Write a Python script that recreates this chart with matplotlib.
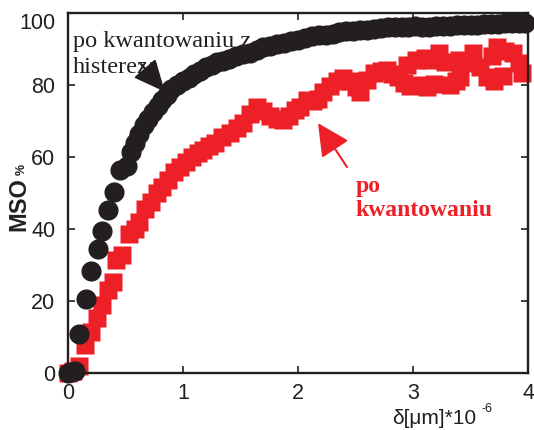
import matplotlib
matplotlib.use("Agg")
import matplotlib.pyplot as plt

plt.rcParams['font.family'] = ['Liberation Sans', 'DejaVu Sans']

# po kwantowaniu z histereza (czarne kolka)
x_hist = [0.00, 0.03, 0.06, 0.10, 0.157, 0.20, 0.26, 0.30, 0.35, 0.40,
          0.45, 0.51, 0.55, 0.58, 0.62, 0.66, 0.70, 0.74, 0.78, 0.82,
          0.86, 0.90, 0.95, 1.00, 1.05, 1.10, 1.15, 1.20, 1.25, 1.30,
          1.35, 1.40, 1.46, 1.52, 1.58, 1.64, 1.70, 1.76, 1.82, 1.88,
          1.94, 2.00, 2.06, 2.12, 2.18, 2.24, 2.30, 2.36, 2.42, 2.48,
          2.54, 2.60, 2.66, 2.72, 2.78, 2.84, 2.90, 2.96, 3.02, 3.08,
          3.14, 3.20, 3.26, 3.32, 3.38, 3.44, 3.50, 3.56, 3.62, 3.68,
          3.74, 3.80, 3.86, 3.92, 3.97]
y_hist = [0.0, 0.2, 0.5, 10.8, 20.6, 28.4, 34.4, 39.4, 45.3, 50.3,
          56.4, 57.5, 61.5, 64.0, 66.5, 68.8, 70.5, 72.5, 74.2, 75.8,
          77.3, 78.8, 80.0, 81.0, 82.0, 83.0, 83.8, 85.0, 85.6, 86.3,
          86.8, 87.3, 88.0, 88.5, 88.9, 89.8, 90.5, 90.9, 91.3, 91.6,
          92.1, 92.5, 93.0, 93.5, 93.9, 94.0, 94.2, 94.6, 94.9, 95.0,
          95.3, 95.4, 95.6, 95.9, 96.0, 96.1, 96.2, 96.1, 96.3, 96.2,
          96.1, 96.3, 96.4, 96.5, 96.6, 96.7, 96.7, 96.8, 96.9, 97.0,
          97.0, 97.1, 97.1, 97.2, 97.3]

# po kwantowaniu (czerwone kwadraty)
x_kw = [0.00, 0.04, 0.10, 0.15, 0.20, 0.25, 0.30, 0.35, 0.39, 0.42,
        0.47, 0.53, 0.58, 0.62, 0.67, 0.72, 0.77, 0.82, 0.87, 0.92,
        0.97, 1.03, 1.08, 1.13, 1.17, 1.23, 1.28, 1.34, 1.41, 1.47,
        1.52, 1.58, 1.64, 1.70, 1.76, 1.82, 1.87, 1.92, 1.97, 2.02,
        2.08, 2.13, 2.17, 2.22, 2.28, 2.34, 2.39, 2.45, 2.50, 2.54,
        2.60, 2.66, 2.72, 2.77, 2.82, 2.87, 2.92, 2.95, 2.97, 3.03,
        3.08, 3.10, 3.12, 3.15, 3.18, 3.23, 3.28, 3.32, 3.37, 3.40,
        3.41, 3.46, 3.52, 3.58, 3.64, 3.69, 3.70, 3.73, 3.78, 3.80,
        3.87, 3.92, 3.95]
y_kw = [0.0, 0.5, 2.0, 7.8, 11.4, 15.3, 18.9, 23.0, 25.3, 31.5,
        32.8, 38.5, 40.0, 42.0, 45.5, 47.5, 50.0, 51.8, 53.6, 55.8,
        57.2, 58.5, 60.0, 61.0, 61.9, 63.0, 63.9, 65.5, 66.7, 68.0,
        69.4, 72.0, 73.9, 72.8, 71.5, 70.5, 70.3, 71.5, 73.0, 74.0,
        75.8, 75.5, 76.0, 78.0, 79.8, 81.0, 82.0, 81.0, 79.5, 78.0,
        81.5, 83.3, 83.8, 84.2, 83.0, 82.2, 80.5, 85.5, 79.8, 86.9,
        80.0, 87.5, 79.4, 87.0, 80.2, 88.9, 86.5, 80.0, 81.0, 87.0,
        82.2, 86.0, 88.9, 85.0, 82.2, 88.0, 81.0, 90.6, 82.5, 89.5,
        88.9, 86.0, 83.3]

black = '#231f20'
red = '#ee2027'

fig = plt.figure(figsize=(5.34, 4.30), dpi=100)
ax = fig.add_axes([0.1273, 0.1326, 0.8615, 0.8372])

ax.plot(x_kw, y_kw, 's', color=red, ms=13.5, mec='none', clip_on=False, zorder=2)
ax.plot(x_hist, y_hist, 'o', color=black, ms=14.5, mec='none', clip_on=False, zorder=3)

ax.set_xlim(0, 4)
ax.set_ylim(0, 100)
ax.set_xticks([0, 1, 2, 3, 4])
ax.set_yticks([0, 20, 40, 60, 80, 100])
ax.tick_params(direction='in', length=5, width=1.2, top=True, right=True,
               labelsize=15.5, colors=black)
ax.tick_params(axis='x', pad=7)
ax.tick_params(axis='y', pad=9)
for s in ax.spines.values():
    s.set_linewidth(1.7)
    s.set_color(black)
for lab in ax.get_yticklabels():
    if lab.get_text() == '100':
        lab.set_verticalalignment('top')

# opisy
ax.text(0.04, 90.6, 'po kwantowaniu z', family='Liberation Serif', fontsize=17.5, color=black)
ax.text(0.04, 83.3, 'histereza', family='Liberation Serif', fontsize=17.5, color=black)
ax.annotate('', xy=(0.843, 78.1), xytext=(0.63, 86.0),
            arrowprops=dict(arrowstyle='-|>,head_length=1.1,head_width=0.5',
                            color=black, lw=1.5, mutation_scale=18, shrinkA=0, shrinkB=0))

ax.text(2.5, 50.3, 'po', family='Liberation Serif', fontsize=17, fontweight='bold', color=red)
ax.text(2.5, 43.6, 'kwantowaniu', family='Liberation Serif', fontsize=17, fontweight='bold', color=red)
ax.annotate('', xy=(2.174, 69.4), xytext=(2.426, 57.2),
            arrowprops=dict(arrowstyle='-|>,head_length=1.0,head_width=0.5',
                            color=red, lw=1.5, mutation_scale=20, shrinkA=0, shrinkB=0))

# etykiety osi
fig.text(19 / 534, 1 - 204 / 430, 'MSO', rotation=90, fontsize=17, fontweight='bold',
         color=black, ha='center', va='center')
fig.text(22 / 534, 1 - 169 / 430, '%', rotation=90, fontsize=9, fontweight='bold',
         color=black, ha='center', va='center')
fig.text(392 / 534, 1 - 424 / 430, 'δ[μm]*10', fontsize=15, color=black, ha='left', va='baseline')
fig.text(482 / 534, 1 - 412 / 430, '-6', fontsize=9, color=black, ha='left', va='baseline')

fig.savefig('out.png', dpi=100)
